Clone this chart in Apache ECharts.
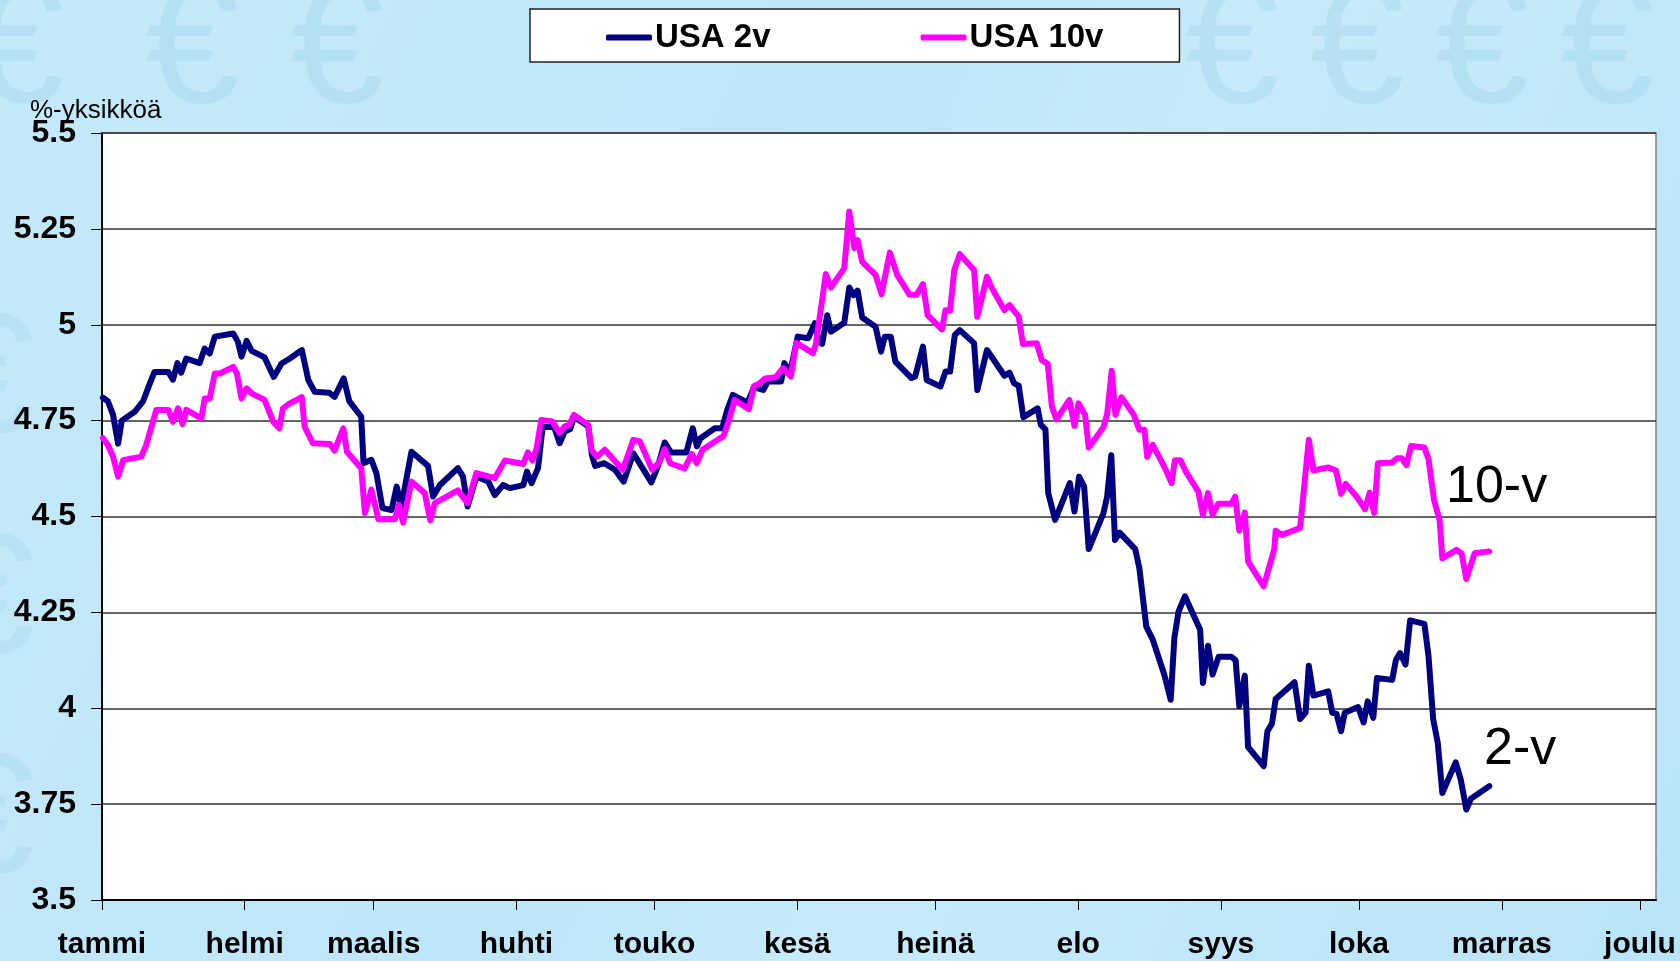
<!DOCTYPE html>
<html>
<head>
<meta charset="utf-8">
<title>USA 2v ja 10v korot</title>
<script src="https://cdn.jsdelivr.net/npm/echarts@6/dist/echarts.min.js"></script>
<style>
  html, body { margin: 0; padding: 0; }
  body { background: linear-gradient(115deg, #c4e9f9 0%, #bde6f8 45%, #c6eafa 60%, #b9e4f7 100%); }
  #main { width: 1680px; height: 961px; }
</style>
</head>
<body>
<div id="main"></div>
<script>
// kuukausien alkupäivät (päivä vuoden alusta) ja nimet
var monthStarts = [0, 31, 59, 90, 120, 151, 181, 212, 243, 273, 304, 334];
var monthNames = ["tammi", "helmi", "maalis", "huhti", "touko", "kesä", "heinä", "elo", "syys", "loka", "marras", "joulu"];

// USA 2v (päivä, %)
var usa2Days = [0.2, 1.3, 2.4, 3.5, 4.3, 7.1, 8.9, 10.4, 11.4, 14.4, 15.4, 16.4, 17.2, 18.3, 21.2, 22.3, 23.4, 24.5, 28.5, 29.5,
  30.3, 31.4, 32.5, 35.3, 37.3, 39.0, 40.8, 43.4, 44.8, 46.2, 49.3, 50.5, 52.5, 53.7, 56.3, 56.8, 58.5, 59.6, 60.9, 62.9,
  64.0, 65.0, 67.2, 70.8, 71.9, 73.4, 77.3, 78.4, 79.4, 81.3, 83.9, 85.3, 87.1, 88.6, 91.5, 92.3, 93.3, 94.7, 95.7, 98.2,
  99.4, 100.5, 101.7, 102.5, 105.6, 106.4, 107.1, 109.1, 111.4, 113.3, 115.4, 119.3, 120.7, 122.2, 123.6, 126.9, 128.3, 129.2, 130.0, 133.1,
  134.7, 135.8, 137.0, 140.2, 141.6, 143.6, 144.6, 147.5, 148.2, 149.4, 151.1, 153.4, 154.8, 155.6, 156.4, 157.5, 158.3, 161.2, 162.3, 163.2,
  164.1, 165.1, 168.0, 169.2, 170.0, 171.3, 172.3, 175.8, 176.6, 178.3, 179.1, 182.1, 183.2, 184.2, 185.2, 186.3, 189.4, 190.1, 192.2, 196.0,
  197.1, 198.1, 199.1, 200.1, 203.2, 203.9, 204.9, 205.5, 207.0, 210.2, 211.2, 212.2, 213.3, 214.3, 217.5, 218.3, 219.2, 220.0, 221.0, 224.4,
  225.3, 226.8, 228.2, 230.7, 232.1, 232.9, 233.8, 235.2, 238.5, 239.1, 240.2, 241.2, 242.5, 245.3, 246.2, 247.0, 248.2, 248.9, 252.3, 253.1,
  254.1, 254.9, 259.0, 260.2, 261.4, 262.1, 263.1, 266.3, 267.2, 268.1, 269.1, 269.9, 272.8, 274.0, 274.9, 276.1, 276.9, 280.2, 281.0, 281.9,
  283.1, 284.1, 287.2, 288.1, 289.1, 290.1, 291.1, 294.0, 295.1, 296.3, 297.3, 301.3];
var usa2Values = [4.81, 4.80, 4.765, 4.69, 4.75, 4.773, 4.80, 4.847, 4.877, 4.877, 4.857, 4.90, 4.875, 4.912, 4.90, 4.938, 4.925, 4.969, 4.977, 4.956,
  4.917, 4.958, 4.932, 4.915, 4.864, 4.899, 4.912, 4.934, 4.856, 4.825, 4.823, 4.812, 4.86, 4.801, 4.76, 4.639, 4.648, 4.613, 4.522, 4.517,
  4.578, 4.526, 4.669, 4.632, 4.552, 4.582, 4.626, 4.604, 4.526, 4.604, 4.591, 4.556, 4.582, 4.574, 4.582, 4.617, 4.587, 4.626, 4.734, 4.733,
  4.691, 4.722, 4.728, 4.76, 4.735, 4.66, 4.632, 4.639, 4.622, 4.591, 4.665, 4.589, 4.63, 4.693, 4.667, 4.667, 4.73, 4.683, 4.704, 4.73,
  4.73, 4.778, 4.817, 4.797, 4.837, 4.83, 4.852, 4.852, 4.90, 4.874, 4.969, 4.965, 5.004, 4.96, 4.95, 5.025, 4.982, 5.005, 5.097, 5.077,
  5.089, 5.019, 4.995, 4.93, 4.969, 4.969, 4.904, 4.861, 4.865, 4.943, 4.856, 4.839, 4.878, 4.878, 4.973, 4.986, 4.952, 4.83, 4.934, 4.867,
  4.875, 4.847, 4.841, 4.759, 4.782, 4.739, 4.727, 4.561, 4.491, 4.587, 4.513, 4.604, 4.578, 4.415, 4.509, 4.552, 4.66, 4.439, 4.458, 4.415,
  4.365, 4.213, 4.179, 4.088, 4.022, 4.183, 4.252, 4.292, 4.205, 4.066, 4.163, 4.088, 4.134, 4.134, 4.125, 4.005, 4.085, 3.899, 3.849, 3.94,
  3.96, 4.024, 4.068, 3.972, 3.989, 4.111, 4.033, 4.044, 3.988, 3.986, 3.94, 3.988, 4.003, 3.963, 4.018, 3.975, 4.079, 4.074, 4.125, 4.144,
  4.114, 4.229, 4.22, 4.135, 3.972, 3.91, 3.779, 3.859, 3.814, 3.736, 3.764, 3.797];

// USA 10v (päivä, %)
var usa10Days = [0.2, 1.3, 2.4, 3.5, 4.6, 8.5, 9.6, 11.8, 14.4, 15.4, 16.5, 17.5, 18.3, 21.6, 22.3, 23.4, 24.5, 25.6, 28.5, 29.3,
  30.3, 31.4, 32.5, 35.3, 37.2, 38.5, 39.3, 40.8, 43.4, 44.0, 45.8, 49.5, 50.5, 52.4, 53.2, 56.3, 57.1, 58.5, 60.0, 63.6,
  64.5, 65.4, 67.2, 70.1, 71.3, 72.3, 77.3, 79.4, 81.3, 85.3, 87.5, 91.5, 92.5, 93.5, 94.4, 95.4, 97.8, 99.4, 100.5, 101.5,
  102.5, 105.6, 106.3, 107.5, 109.2, 113.1, 115.4, 116.8, 119.5, 121.1, 122.2, 123.4, 126.5, 128.1, 129.2, 130.4, 135.0, 136.2, 137.4, 140.5,
  141.6, 142.8, 144.0, 146.3, 147.9, 149.6, 150.8, 154.4, 155.0, 157.2, 158.3, 161.2, 162.3, 163.4, 164.1, 165.1, 168.0, 169.3, 171.1, 172.7,
  175.4, 176.9, 178.3, 179.3, 182.4, 183.2, 184.2, 185.1, 186.3, 189.4, 190.1, 192.2, 193.2, 196.0, 197.1, 199.1, 200.0, 203.0, 204.1, 205.4,
  206.3, 207.3, 210.1, 211.2, 212.1, 213.5, 214.3, 217.5, 218.3, 219.3, 220.1, 221.4, 224.1, 225.3, 226.4, 227.0, 228.2, 230.7, 232.3, 233.0,
  234.2, 235.4, 238.1, 239.1, 240.2, 241.2, 242.4, 245.3, 246.1, 247.0, 248.2, 248.9, 252.3, 254.6, 254.9, 256.3, 260.2, 260.8, 262.1, 263.1,
  266.3, 268.0, 269.1, 270.1, 272.6, 274.3, 275.3, 276.3, 277.1, 280.2, 281.3, 282.3, 283.3, 284.3, 287.2, 288.1, 289.3, 290.5, 291.1, 294.2,
  295.3, 296.3, 298.1, 301.3];
var usa10Values = [4.704, 4.686, 4.656, 4.604, 4.647, 4.656, 4.686, 4.778, 4.778, 4.747, 4.782, 4.741, 4.778, 4.756, 4.808, 4.808, 4.873, 4.873, 4.89, 4.873,
  4.808, 4.834, 4.821, 4.804, 4.747, 4.73, 4.782, 4.795, 4.811, 4.734, 4.691, 4.689, 4.672, 4.73, 4.669, 4.626, 4.509, 4.57, 4.493, 4.493,
  4.53, 4.484, 4.591, 4.561, 4.49, 4.535, 4.568, 4.535, 4.613, 4.60, 4.646, 4.637, 4.667, 4.646, 4.678, 4.752, 4.748, 4.717, 4.735, 4.739,
  4.765, 4.739, 4.674, 4.656, 4.674, 4.622, 4.70, 4.696, 4.622, 4.643, 4.676, 4.639, 4.625, 4.663, 4.639, 4.674, 4.71, 4.752, 4.804, 4.78,
  4.84, 4.847, 4.86, 4.863, 4.887, 4.865, 4.953, 4.926, 4.947, 5.132, 5.097, 5.147, 5.295, 5.20, 5.221, 5.164, 5.13, 5.08, 5.188, 5.13,
  5.078, 5.078, 5.106, 5.025, 4.988, 5.038, 5.037, 5.143, 5.184, 5.143, 5.021, 5.125, 5.097, 5.038, 5.051, 5.021, 4.95, 4.952, 4.908, 4.898,
  4.786, 4.753, 4.804, 4.736, 4.795, 4.765, 4.68, 4.733, 4.767, 4.88, 4.765, 4.811, 4.765, 4.726, 4.726, 4.656, 4.687, 4.63, 4.587, 4.647,
  4.647, 4.617, 4.565, 4.504, 4.561, 4.504, 4.533, 4.533, 4.552, 4.463, 4.51, 4.383, 4.318, 4.415, 4.463, 4.452, 4.47, 4.543, 4.70, 4.62,
  4.628, 4.62, 4.559, 4.585, 4.55, 4.519, 4.562, 4.509, 4.639, 4.641, 4.652, 4.652, 4.634, 4.684, 4.68, 4.649, 4.543, 4.491, 4.391, 4.413,
  4.403, 4.337, 4.404, 4.409];

function pairs(days, values) {
  return days.map(function (d, i) { return [d, values[i]]; });
}

// taustan haaleat euromerkit
var euroX = [40, 215, 360, 1255, 1380, 1505, 1630];
var euroGraphics = euroX.map(function (x) {
  return {
    type: "text", left: x - 70, top: -30, z: -10, silent: true,
    style: { text: "€", font: "170px 'Liberation Sans'", fill: "rgba(150,205,232,0.3)" }
  };
});
[300, 520, 740].forEach(function (y) {
  euroGraphics.push({
    type: "text", left: -60, top: y, z: -10, silent: true,
    style: { text: "€", font: "170px 'Liberation Sans'", fill: "rgba(150,205,232,0.25)" }
  });
});

var chartDom = document.getElementById("main");
var myChart = echarts.init(chartDom, null, { renderer: "canvas" });
var option;

var labelFont = { color: "#000", fontFamily: "Liberation Sans", fontWeight: "bold" };

option = {
  animation: false,
  backgroundColor: "transparent",
  textStyle: { fontFamily: "Liberation Sans" },
  legend: {
    left: 530,
    top: 9,
    padding: [12, 76, 8, 76],
    backgroundColor: "#fff",
    borderColor: "#222",
    borderWidth: 1.5,
    borderRadius: 0,
    itemWidth: 46,
    itemHeight: 6,
    itemGap: 150,
    icon: "roundRect",
    textStyle: Object.assign({ fontSize: 33, padding: [0, 0, 0, -2] }, labelFont),
    data: ["USA 2v", "USA 10v"]
  },
  grid: {
    left: 102,
    right: 24,
    top: 133,
    bottom: 61,
    show: true,
    backgroundColor: "#fff",
    borderColor: "#808080",
    borderWidth: 1.5
  },
  xAxis: {
    type: "value",
    min: 0,
    max: 337.5,
    axisLine: { show: true, lineStyle: { color: "#000", width: 2 } },
    axisTick: { show: true, inside: false, length: 10, customValues: monthStarts, lineStyle: { color: "#000", width: 1 } },
    axisLabel: Object.assign({
      fontSize: 30,
      margin: 30,
      customValues: monthStarts,
      formatter: function (v) { return monthNames[monthStarts.indexOf(v)]; }
    }, labelFont),
    splitLine: { show: false }
  },
  yAxis: {
    type: "value",
    min: 3.5,
    max: 5.5,
    interval: 0.25,
    axisLine: { show: true, lineStyle: { color: "#000", width: 2 } },
    axisTick: { show: true, length: 11, lineStyle: { color: "#000", width: 1 } },
    axisLabel: Object.assign({ fontSize: 32, margin: 26 }, labelFont),
    splitLine: { show: true, lineStyle: { color: "#303030", width: 1.5 } }
  },
  graphic: euroGraphics.concat([
    {
      type: "text", left: 30, top: 98, z: 90,
      style: { text: "%-yksikköä", font: "26px 'Liberation Sans'", fill: "#000" }
    },
    {
      type: "text", left: 1446, top: 462, z: 100,
      style: { text: "10-v", font: "52px 'Liberation Sans'", fill: "#000" }
    },
    {
      type: "text", left: 1484, top: 724, z: 100,
      style: { text: "2-v", font: "52px 'Liberation Sans'", fill: "#000" }
    }
  ]),
  series: [
    {
      name: "USA 2v",
      type: "line",
      showSymbol: false,
      symbol: "none",
      data: pairs(usa2Days, usa2Values),
      itemStyle: { color: "#000080" },
      lineStyle: { color: "#000080", width: 6, join: "round", cap: "round" }
    },
    {
      name: "USA 10v",
      type: "line",
      showSymbol: false,
      symbol: "none",
      data: pairs(usa10Days, usa10Values),
      itemStyle: { color: "#ff00ff" },
      lineStyle: { color: "#ff00ff", width: 6, join: "round", cap: "round" }
    }
  ]
};
myChart.setOption(option);
</script>
</body>
</html>
